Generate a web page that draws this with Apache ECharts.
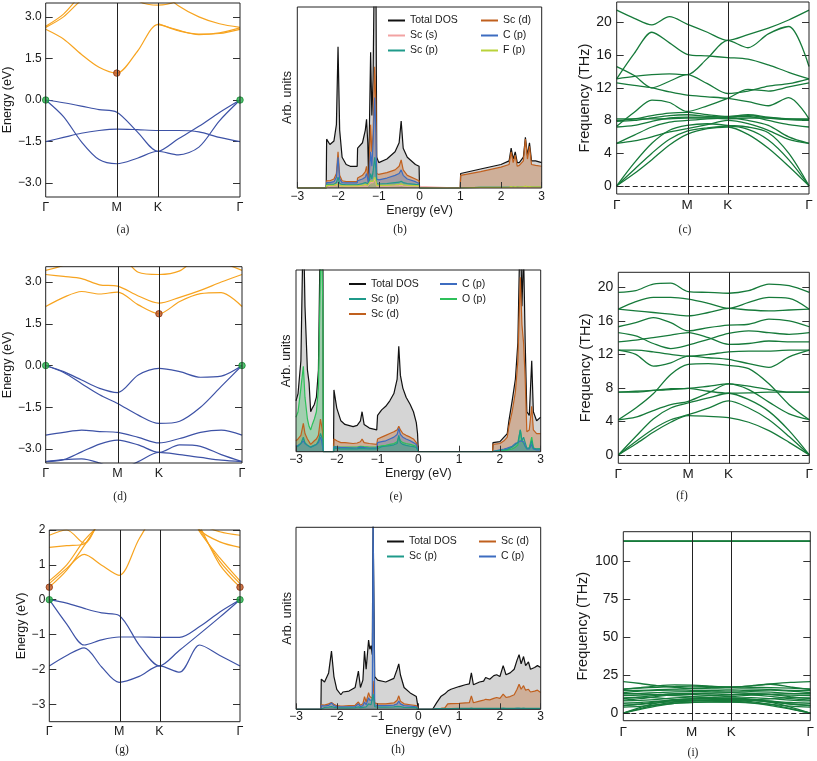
<!DOCTYPE html>
<html><head><meta charset="utf-8">
<script src="https://cdn.jsdelivr.net/npm/echarts@6/dist/echarts.min.js"></script>
<style>html,body{margin:0;padding:0;background:#fff}#c{width:817px;height:761px}</style>
</head><body><div id="c"></div>
<script>
// ---------------- DATA ----------------
const kTicks = [0, 0.366, 0.577, 1];
const kLabels = ['Γ', 'M', 'K', 'Γ'];
const kPath = [0, 0.0915, 0.183, 0.2745, 0.366, 0.4715, 0.577, 0.68275, 0.7885, 0.89425, 1];

// (a) band structure
const valenceA = [
  [0, -0.1, -0.22, -0.35, -0.44, -1.15, -1.85, -1.4, -0.95, -0.45, 0],
  [0, -0.6, -1.5, -2.15, -2.3, -2.1, -1.85, -1.98, -1.7, -0.75, 0],
  [-1.5, -1.35, -1.2, -1.1, -1.05, -1.07, -1.1, -1.1, -1.15, -1.35, -1.5]
];
const conductionA = [
  [2.55, 2.2, 1.65, 1.18, 0.97, 1.75, 2.72, 2.5, 2.38, 2.4, 2.55],
  [2.62, 3.0, 3.6, 4.0, 4.2, 4.3, 4.0, 3.4, 3.0, 2.75, 2.62],
  [2.66, 3.1, 3.8, 4.3, 4.4, 3.6, 3.42, 3.6, 4.2, 4.5, 4.6],
  [null, null, null, null, null, null, 2.76, 2.52, 2.36, 2.42, 2.6]
];
const vbmA = [[0, 0], [1, 0]];
const cbmA = [[0.366, 0.97]];

// (d) band structure
const valenceD = [
  [0, -0.22, -0.52, -0.82, -0.97, -0.34, -0.1, -0.22, -0.42, -0.38, 0],
  [0, -0.25, -0.65, -1.05, -1.36, -1.78, -2.08, -2.0, -1.5, -0.75, 0],
  [-2.5, -2.4, -2.32, -2.37, -2.4, -2.58, -2.78, -2.62, -2.4, -2.32, -2.5],
  [-3.45, -3.38, -3.1, -2.82, -2.68, -2.85, -3.12, -2.85, -2.9, -3.2, -3.45],
  [-3.45, -3.38, -3.35, -3.5, -3.75, -3.45, -3.12, -3.2, -3.3, -3.4, -3.45]
];
const conductionD = [
  [2.12, 2.45, 2.66, 2.57, 2.64, 2.18, 1.86, 2.3, 2.58, 2.62, 2.12],
  [3.27, 3.2, 3.12, 2.9, 2.85, 2.5, 2.24, 2.45, 2.7, 3.0, 3.27],
  [3.42, 3.6, 3.9, 4.0, 4.0, 3.35, 3.27, 3.4, 3.9, 3.7, 3.42]
];
const vbmD = [[0, 0], [1, 0]];
const cbmD = [[0.577, 1.86]];

// (g) band structure
const valenceG = [
  [0, -0.1, -0.25, -0.38, -0.45, -1.3, -1.9, -1.45, -0.98, -0.5, 0],
  [0, -0.7, -1.3, -1.15, -1.07, -1.07, -1.08, -1.08, -0.77, -0.35, 0],
  [-1.9, -1.6, -1.38, -1.93, -2.37, -2.2, -1.9, -2.08, -1.3, -1.6, -1.9]
];
const conductionG = [
  [0.36, 0.85, 1.55, 2.3, 2.8, 3, 3, 3, 2.1, 1.0, 0.36],
  [0.46, 0.9, 1.3, 0.99, 0.7, 1.75, 2.6, 2.8, 2.0, 1.1, 0.46],
  [0.54, 1.0, 1.7, 2.2, 2.6, 3, 3, 3, 1.95, 1.2, 0.54],
  [1.5, 1.55, 1.6, 2.4, 3, 3, 3, 3, 2.0, 1.66, 1.5],
  [1.85, 2.0, 1.62, 2.4, 3, 3, 3, 3, 2.2, 1.95, 1.85]
];
const vbmG = [[0, 0], [1, 0]];
const cbmG = [[0, 0.36], [1, 0.36]];

// (c) phonons
const phononC = [
  [0, 1.5, 3.2, 5.0, 6.3, 7.0, 7.2, 6.3, 4.6, 2.4, 0],
  [0, 2.0, 4.0, 5.7, 6.7, 7.1, 7.3, 6.9, 5.6, 3.2, 0],
  [0, 2.8, 5.2, 6.8, 7.4, 7.6, 7.4, 7.2, 6.5, 4.0, 0],
  [5.2, 5.5, 6.0, 6.6, 7.0, 7.5, 8.0, 7.6, 6.8, 5.7, 5.2],
  [5.2, 6.2, 7.2, 7.8, 8.0, 8.2, 8.3, 8.0, 7.4, 6.0, 5.2],
  [7.2, 7.4, 7.9, 8.3, 8.4, 8.4, 8.4, 8.5, 8.0, 7.5, 7.2],
  [7.9, 8.0, 8.3, 8.6, 8.7, 8.5, 8.4, 8.6, 8.3, 8.1, 8.0],
  [8.0, 8.2, 8.6, 8.9, 9.0, 8.7, 8.5, 8.7, 8.4, 8.2, 8.1],
  [8.2, 8.2, 8.2, 8.2, 8.3, 8.3, 8.2, 8.3, 8.3, 8.2, 8.2],
  [7.3, 9.0, 10.5, 10.2, 9.1, 9.8, 10.7, 11.8, 11.6, 12.1, 12.6],
  [12.6, 12.3, 12.0, 11.5, 11.1, 10.9, 10.7, 10.3, 9.8, 10.8, 8.2],
  [14.6, 13.5, 12.0, 12.8, 13.6, 12.5, 11.3, 11.6, 12.2, 12.5, 13.1],
  [13.1, 13.4, 13.6, 13.7, 13.6, 15.6, 17.8, 16.9, 18.6, 19.5, 14.6],
  [13.1, 16.2, 18.8, 17.5, 16.1, 15.9, 15.7, 15.5, 14.8, 13.9, 13.1],
  [21.5, 20.5, 19.7, 20.7, 19.8, 18.8, 17.8, 18.5, 19.3, 20.3, 21.5]
];

// (f) phonons
const phononF = [
  [0, 1.3, 2.7, 3.9, 4.7, 4.6, 4.45, 3.9, 2.9, 1.5, 0],
  [0, 1.6, 3.1, 4.2, 4.8, 5.6, 6.44, 5.6, 4.2, 2.2, 0],
  [0, 2.2, 4.3, 5.6, 6.2, 6.8, 7.36, 6.6, 5.2, 2.9, 0],
  [4.2, 4.5, 5.3, 6.0, 6.4, 7.4, 8.47, 7.8, 6.3, 4.9, 4.2],
  [4.2, 5.6, 7.3, 9.6, 10.8, 10.9, 10.7, 10.3, 8.5, 6.0, 4.2],
  [7.5, 7.5, 7.7, 7.9, 7.95, 8.2, 8.47, 8.2, 7.8, 7.5, 7.5],
  [7.5, 7.6, 7.7, 7.8, 7.95, 7.6, 7.36, 7.4, 7.5, 7.5, 7.5],
  [12.5, 12.0, 10.6, 11.0, 11.8, 11.6, 11.4, 10.9, 10.45, 11.7, 12.5],
  [12.5, 12.5, 12.3, 12.0, 11.8, 12.0, 12.3, 12.4, 12.4, 12.5, 12.5],
  [13.5, 13.7, 14.0, 14.3, 14.6, 14.0, 13.2, 13.3, 13.6, 13.5, 13.5],
  [14.6, 14.2, 13.3, 12.7, 13.1, 13.8, 14.5, 14.8, 14.6, 14.4, 14.6],
  [15.3, 15.8, 16.4, 15.8, 14.8, 15.2, 15.5, 15.6, 16.2, 16.0, 15.3],
  [17.4, 17.2, 17.0, 16.8, 16.6, 17.0, 17.5, 17.3, 17.2, 17.3, 17.4],
  [17.4, 18.3, 18.8, 18.8, 18.6, 18.1, 17.5, 18.2, 18.8, 18.7, 17.4],
  [19.4, 19.6, 20.4, 20.5, 19.5, 19.4, 19.3, 19.6, 20.4, 20.2, 19.4]
];

// (i) phonons
const phononI = [
  [0, 2.5, 4.8, 6.5, 7.2, 7.4, 7.5, 6.8, 5.0, 2.6, 0],
  [0, 3.0, 5.5, 7.2, 8.0, 8.2, 8.3, 7.6, 5.8, 3.0, 0],
  [0, 3.8, 6.8, 8.6, 9.3, 9.2, 9.0, 8.6, 7.0, 3.9, 0],
  [4.0, 4.5, 5.5, 6.4, 7.0, 7.2, 7.3, 6.8, 5.8, 4.6, 4.0],
  [5.0, 5.8, 6.8, 7.6, 8.0, 8.8, 9.6, 8.8, 7.2, 5.9, 5.0],
  [5.0, 6.0, 7.5, 8.8, 9.5, 9.7, 9.8, 9.2, 7.8, 6.0, 5.0],
  [6.5, 7.0, 7.8, 8.2, 8.5, 8.6, 8.7, 8.4, 7.8, 7.0, 6.5],
  [8.0, 8.4, 9.0, 10.0, 10.5, 10.2, 10.0, 10.2, 9.5, 8.6, 8.0],
  [8.5, 9.5, 11.0, 12.0, 12.3, 11.5, 11.0, 11.8, 11.0, 9.5, 8.5],
  [9.5, 10.5, 11.8, 12.8, 13.0, 12.6, 12.2, 12.8, 12.2, 10.8, 9.5],
  [10.0, 10.5, 10.0, 9.0, 8.5, 8.0, 7.5, 8.5, 9.5, 10.2, 10.0],
  [11.5, 11.8, 12.2, 12.6, 12.8, 13.2, 13.5, 13.0, 12.4, 11.8, 11.5],
  [12.5, 13.0, 13.5, 14.0, 14.2, 14.0, 13.8, 14.2, 13.8, 13.0, 12.5],
  [13.0, 12.5, 12.0, 11.5, 11.0, 11.5, 12.0, 12.2, 12.5, 12.8, 13.0],
  [13.5, 14.5, 15.0, 15.2, 15.0, 14.8, 14.6, 15.0, 15.2, 14.5, 13.5],
  [14.8, 15.0, 15.4, 15.8, 16.2, 16.0, 15.8, 16.0, 15.6, 15.0, 14.8],
  [15.5, 16.8, 18.0, 18.6, 18.5, 17.8, 17.0, 18.0, 19.0, 17.2, 15.5],
  [16.0, 16.5, 17.0, 17.5, 17.8, 17.5, 17.2, 17.0, 16.8, 16.4, 16.0],
  [20.8, 19.5, 18.0, 17.0, 16.5, 16.8, 17.2, 18.0, 19.2, 20.2, 20.8],
  [113.2, 113.2, 113.2, 113.2, 113.2, 113.2, 113.2, 113.2, 113.2, 113.2, 113.2],
  [113.5, 113.5, 113.5, 113.5, 113.5, 113.5, 113.5, 113.5, 113.5, 113.5, 113.5]
];

// (b) DOS
const energyB = [-3.0,-2.29,-2.28,-2.2,-2.1,-2.04,-2.0,-1.96,-1.9,-1.8,-1.7,-1.53,-1.52,-1.4,-1.33,-1.3,-1.27,-1.25,-1.2,-1.17,-1.14,-1.1,-1.07,-1.05,-1.0,-0.8,-0.6,-0.5,-0.45,-0.4,-0.3,-0.1,-0.01,0.0,1.0,1.01,1.5,2.0,2.2,2.25,2.3,2.35,2.4,2.45,2.55,2.6,2.65,2.7,2.75,2.85,3.0];
const totalB = [0,0,27,24,26,35,78,32,17,13, 12,12,22,25,32,38,25,5,75,40, 60,140,120,17,14,16,20,25,37,22, 17,13,12,0,0,8,10.5,13,15,22, 16,20,14,14,17,28,18,25,15,15,14];
const scdB = [0,0,4,4,5,8,20,7,4,3.5, 3.5,3.5,5.5,7,9,12,7,2,35,20, 30,67,45,8,7.5,8.5,10,12,15.5,10, 7,5,4,0,0,7,9,11.5,13,20, 14,18,12,12.5,15,27,16,23,13,12.5,12];
const cpB = [0,0,3,3,3.5,6,17,5,3,2.8, 2.8,2.8,4,5,6,8,5,1.5,20,12, 25,50,30,5,4.5,5.5,7,8,10,7, 5,3.5,2.5,0,0,0.4,0.4,0.4,0.5,0.6, 0.5,0.6,0.5,0.5,0.5,0.7,0.5,0.6,0.5,0.5,0.5];
const scpB = [0,0,2,2,2,3,6,2.5,2,1.8, 1.8,1.8,2.2,2.5,3,4,2.5,1,8,5, 9,17,10,2.5,2.2,2.5,3,3.2,3.7,3, 2.5,2,1.8,0,0,0.3,0.3,0.3,0.3,0.4, 0.3,0.4,0.3,0.3,0.3,0.4,0.3,0.4,0.3,0.3,0.3];
const scsB = [0,0,1,1,1,1.2,2.5,1,1,0.8, 0.8,0.8,1,1,1.2,1.5,1,0.5,3,2, 3,5,3,1,1,1,1.2,1.3,1.5,1.2, 1,1,0.8,0,0,0.2,0.2,0.2,0.2,0.3, 0.2,0.3,0.2,0.2,0.2,0.3,0.2,0.3,0.2,0.2,0.2];
const fpB = [0,0,1.5,1.5,1.5,2,3,1.5,1.2,1.2, 1.2,1.2,1.5,1.5,2,2.5,1.5,0.8,4,3, 3.5,6,4,1.5,1.5,1.5,1.8,2,2.3,1.8, 1.5,1.3,1.2,0,0,0.3,0.3,0.4,0.5,0.8, 0.5,0.8,0.5,0.6,0.7,1.0,0.6,0.8,0.6,0.6,0.6];

// (e) DOS
const energyE = [-3.0,-2.95,-2.88,-2.82,-2.78,-2.72,-2.68,-2.64,-2.6,-2.55, -2.5,-2.45,-2.4,-2.37,-2.34,-2.33,-2.08,-2.07,-2.0,-1.9, -1.8,-1.6,-1.5,-1.42,-1.38,-1.33,-1.2,-1.02,-1.0,-0.9, -0.8,-0.7,-0.6,-0.52,-0.48,-0.44,-0.38,-0.3,-0.2,-0.12, -0.05,-0.02,0.0,1.82,1.83,2.0,2.1,2.18,2.22,2.3, 2.38,2.44,2.5,2.54,2.58,2.62,2.66,2.72,2.78,2.82,2.9,3.0];
const totalE = [28,32,50,130,80,45,38,22,24,26, 30,45,130,120,110,0,0,34,24,17, 15,13.8,14.5,17,22,15,13,12,20,23, 25,28,32,40,58,42,35,30,26,22, 16,10,0,0,5,5.5,8,10,17,28, 40,60,130,80,110,60,22,20,50,22,17,19];
const scdE = [6,7,9,15.6,10,7,6,4,5,6, 7,9,18,14,10,0,0,7,6,5, 5,4.5,4.8,5.5,7,5,4.5,4,7,8, 9,10,11,12,14,12,10,9,8,7, 5,4,0,0,4,4.5,6,8,14,22, 33,50,96,70,60,40,11,12,25,12,10,10];
const opE = [19,22,35,47,30,18,14,12,15,18, 22,35,100,110,80,0,0,3,2.7,2.6, 2.5,2.5,2.6,3,3.5,2.8,2.6,2.5,3,3.2, 3.5,4,4.5,5.5,8,6,5,4.5,4,3.5, 3,2.5,0,0,0.5,0.5,0.7,0.9,1.2,1.5, 2.5,3.7,12,6,5,3,1.5,2,8,2,1.5,1.5];
const cpE = [3,3.5,4.5,6,4.5,3.5,3,2.5,3,3.5, 4,5,8,6,5,0,0,2.7,2.5,2.3, 2.2,2,2.1,2.5,3,2.3,2,2,5,5.5, 6,7,8,9.5,12.8,9.5,8,7,6,5, 4,3,0,0,1,1,1.5,2,2.5,3, 4.6,5,6,5,5.5,3,1.5,1.5,4,1.5,1,1];
const scpE = [2.5,3,4.5,8,5,3.5,3,2.5,3,3.5, 4,6,10,8,6,0,0,2,1.8,1.6, 1.6,1.5,1.6,1.8,2.5,1.7,1.5,1.5,2.5,2.8, 3,3.3,3.8,4.5,9,5,4,3.5,3,2.8, 2.3,2,0,0,0.8,0.8,1,1.3,2,2.5, 4,5,12,6,8,5,2,2,6,2,1.5,1.5];

// (h) DOS
const energyH = [-3.0,-2.39,-2.38,-2.3,-2.2,-2.13,-2.07,-2.0,-1.9,-1.85, -1.7,-1.55,-1.47,-1.42,-1.36,-1.32,-1.28,-1.22,-1.19,-1.16, -1.13,-1.11,-1.09,-1.07,-1.0,-0.8,-0.6,-0.52,-0.48,-0.44, -0.35,-0.2,-0.05,-0.01,0.0,0.35,0.36,0.45,0.55,0.65, 0.72,0.8,1.0,1.15,1.25,1.3,1.35,1.5,1.6,1.65, 1.75,1.85,1.92,2.0,2.08,2.15,2.25,2.35,2.42,2.47, 2.52,2.58,2.63,2.7,2.75,2.85,2.92,3.0];
const totalH = [0,0,16.6,15,20,32,18,11,8,9.5, 10,12,21,12,16,32,22,38,33,35, 30,105,105,18,16,15,17,22,25,19, 12,9,7,6.4,0,0,1,3.7,7,8.5, 10,11,12.5,13.5,14,20,13.5,15,15.5,17.5, 16.5,18.5,19,18,24,19,20,22,27,30, 25,29,24,26,22,23,24,23];
const scdH = [0,0,2.5,2.3,3,3.7,2.8,2,1.8,1.8, 2,2.2,4,2.2,3,7,4,9.2,7,7.5, 6,15.6,15,3.5,3,3,3.5,5,7.4,4.5, 3,2.5,2,1.8,0,0,0,0.3,0.5,0.8, 3,3.1,3.3,3.5,3.6,7.4,3.6,4.5,5,5.5, 5.2,6,6.5,6,8.3,6.5,7,8,11,13.8, 11,13,10.5,11,9.5,10,10.5,9.2];
const cpH = [0,0,2,1.8,2.2,3.5,2,1.5,1.3,1.3, 1.4,1.5,3,1.5,2,4,2.5,6.4,5,5.5, 5,105,105,2.5,2,2,2.3,3,4.6,3, 2,1.7,1.4,1.2,0,0,0.2,0.3,0.3,0.3, 0.3,0.3,0.3,0.3,0.3,0.4,0.3,0.3,0.3,0.3, 0.3,0.3,0.3,0.3,0.4,0.3,0.3,0.3,0.4,0.4, 0.3,0.4,0.3,0.3,0.3,0.3,0.3,0.3];
const scpH = [0,0,1,1,1.2,1.5,1.1,0.9,0.8,0.8, 0.8,0.9,1.3,0.9,1.1,2,1.3,3,2.5,2.5, 2.2,8.3,8,1.5,1.2,1.2,1.3,1.6,2,1.5, 1.1,1,0.9,0.8,0,0,0.3,0.4,0.4,0.4, 0.4,0.4,0.5,0.5,0.5,0.6,0.5,0.5,0.5,0.5, 0.5,0.5,0.5,0.5,0.6,0.5,0.5,0.5,0.6,0.6, 0.5,0.6,0.5,0.5,0.5,0.5,0.5,0.5];

const energyTicks3 = [-3, -1.5, 0, 1.5, 3];
const energyTicksG = [-3, -2, -1, 0, 1, 2];
const freqTicks = [0, 4, 8, 12, 16, 20];
const freqTicksI = [0, 25, 50, 75, 100];

// ---------------- STYLE / BUILD ----------------
const FONT = '"Liberation Sans", Arial, sans-serif';
const SERIF = '"Liberation Serif", "Times New Roman", serif';
const TXT = '#1a1a1a';
const BLUE = '#3d52a6', ORANGE = '#f7a420', GREEN = '#167a3a';
const minus = s => String(s).replace('-', '\u2212');
const C = {
  tot: ['#111111', '#d5d5d5'],
  scd: ['#c0601e', 'rgba(192,96,30,0.33)'],
  cp:  ['#3d6cc0', 'rgba(61,108,192,0.30)'],
  scp: ['#1f9a8a', 'rgba(31,154,138,0.25)'],
  scs: ['#f2a2a2', 'rgba(242,162,162,0.30)'],
  fp:  ['#b9d23a', 'rgba(185,210,58,0.30)'],
  op:  ['#2ec05a', 'rgba(46,192,90,0.30)']
};

const grid = [], xAxis = [], yAxis = [], series = [], legend = [], graphic = [];

function frame(b) {
  grid.push({left: b[0], top: b[1], width: b[2], height: b[3], show: true, borderColor: '#222', borderWidth: 1, backgroundColor: 'transparent', z: 5});
  return grid.length - 1;
}
function kLabel(v) {
  let best = 0;
  kTicks.forEach((t, i) => { if (Math.abs(t - v) < Math.abs(kTicks[best] - v)) best = i; });
  return kLabels[best];
}

function bandPanel(p) {
  const g = frame(p.box);
  const xi = xAxis.length;
  xAxis.push({gridIndex: g, type: 'value', min: 0, max: 1, axisLine: {show: false}, axisTick: {show: false}, splitLine: {show: false},
    axisLabel: {customValues: kTicks, formatter: kLabel, fontSize: p.xfs, fontFamily: FONT, color: TXT, margin: p.xm}});
  const yi = yAxis.length;
  const tick = {inside: true, length: 7, customValues: p.ticks, lineStyle: {color: '#333', width: 1}};
  yAxis.push({gridIndex: g, type: 'value', min: p.ymin, max: p.ymax, axisLine: {show: false}, splitLine: {show: false}, axisTick: tick,
    axisLabel: {customValues: p.ticks, formatter: p.fmt, fontSize: p.fs, fontFamily: FONT, color: TXT, margin: p.ym},
    name: p.name, nameLocation: 'middle', nameGap: p.ng, nameTextStyle: {fontSize: p.nfs, fontFamily: FONT, color: TXT}});
  yAxis.push({gridIndex: g, type: 'value', position: 'right', min: p.ymin, max: p.ymax, axisLine: {show: false}, splitLine: {show: false}, axisTick: tick, axisLabel: {show: false}});
  const ml = [{xAxis: kTicks[1]}, {xAxis: kTicks[2]}];
  if (p.zero) ml.push({yAxis: 0, lineStyle: {type: [5, 3], color: '#222', width: 1.2}});
  let first = true;
  p.groups.forEach(gr => gr.bands.forEach(b => {
    const s = {type: 'line', xAxisIndex: xi, yAxisIndex: yi, data: kPath.map((k, j) => [k, b[j]]), smooth: 0.3, symbol: 'none',
      lineStyle: {color: gr.color, width: p.lw}, itemStyle: {color: gr.color}, silent: true, z: 2};
    if (first) {
      s.markLine = {silent: true, symbol: ['none', 'none'], label: {show: false}, lineStyle: {color: '#222', width: 1, type: 'solid'}, data: ml};
      first = false;
    }
    series.push(s);
  }));
  (p.markers || []).forEach(m => series.push({type: 'scatter', xAxisIndex: xi, yAxisIndex: yi, data: m.data, symbolSize: 6.5,
    itemStyle: {color: m.color, borderColor: m.edge, borderWidth: 1}, z: 4, silent: true}));
}

function dosPanel(p) {
  const g = frame(p.box);
  const xi = xAxis.length;
  xAxis.push({gridIndex: g, type: 'value', min: -3, max: 3, interval: 1, z: 6, axisLine: {show: false}, splitLine: {show: false},
    axisTick: {inside: true, length: 6, lineStyle: {color: '#333'}},
    axisLabel: {formatter: v => minus(v), fontSize: 12, fontFamily: FONT, color: TXT, margin: p.xm},
    name: 'Energy (eV)', nameLocation: 'middle', nameGap: 15, nameTextStyle: {fontSize: 12.5, fontFamily: FONT, color: TXT}});
  const yi = yAxis.length;
  yAxis.push({gridIndex: g, type: 'value', min: 0, max: 100, axisLine: {show: false}, axisTick: {show: false}, axisLabel: {show: false}, splitLine: {show: false},
    name: 'Arb. units', nameLocation: 'middle', nameGap: p.ng, nameTextStyle: {fontSize: 12.5, fontFamily: FONT, color: TXT}});
  p.comps.forEach(c => series.push({type: 'line', name: c.name, xAxisIndex: xi, yAxisIndex: yi,
    data: p.energy.map((e, j) => [e, c.vals[j]]), symbol: 'none', lineStyle: {color: c.col[0], width: 1.2},
    itemStyle: {color: c.col[0]}, areaStyle: {color: c.col[1], opacity: 1}, silent: true, z: 2}));
  p.legends.forEach(l => legend.push({orient: 'vertical', left: l[0], top: l[1], data: l[2], icon: 'rect', itemWidth: 17, itemHeight: 2,
    itemGap: 2, padding: 0, selectedMode: false, textStyle: {fontSize: 10.5, lineHeight: 13, fontFamily: FONT, color: TXT}}));
}

const fmt1 = v => minus(v.toFixed(1));
const fmt0 = v => minus(v);

bandPanel({box: [45.7, 3, 194.3, 194], ymin: -3.5, ymax: 3.5, ticks: energyTicks3, fmt: fmt1, name: 'Energy (eV)', ng: 31, fs: 12, nfs: 12.5, xfs: 12.5, xm: 4, ym: 4, lw: 1.2,
  groups: [{bands: valenceA, color: BLUE}, {bands: conductionA, color: ORANGE}],
  markers: [{data: vbmA, color: '#25b04a', edge: '#158a35'}, {data: cbmA, color: '#c2561f', edge: '#8a3510'}]});
bandPanel({box: [45.7, 266.7, 196.3, 196.3], ymin: -3.5, ymax: 3.55, ticks: energyTicks3, fmt: fmt1, name: 'Energy (eV)', ng: 31, fs: 12, nfs: 12.5, xfs: 12.5, xm: 4, ym: 4, lw: 1.2,
  groups: [{bands: valenceD, color: BLUE}, {bands: conductionD, color: ORANGE}],
  markers: [{data: vbmD, color: '#25b04a', edge: '#158a35'}, {data: cbmD, color: '#c2561f', edge: '#8a3510'}]});
bandPanel({box: [49.3, 530, 190.7, 191.7], ymin: -3.5, ymax: 2, ticks: energyTicksG, fmt: fmt0, name: 'Energy (eV)', ng: 21, fs: 12, nfs: 12.5, xfs: 12.5, xm: 3, ym: 4, lw: 1.2,
  groups: [{bands: valenceG, color: BLUE}, {bands: conductionG, color: ORANGE}],
  markers: [{data: vbmG, color: '#25b04a', edge: '#158a35'}, {data: cbmG, color: '#c2561f', edge: '#8a3510'}]});

bandPanel({box: [616.7, 2, 192.3, 192], ymin: -1, ymax: 22.5, ticks: freqTicks, fmt: fmt0, name: 'Frequency (THz)', ng: 23, fs: 14, nfs: 14.5, xfs: 13.5, xm: 4, ym: 5, lw: 1.3, zero: true,
  groups: [{bands: phononC, color: GREEN}]});
bandPanel({box: [618.3, 272.3, 191, 191], ymin: -1, ymax: 21.8, ticks: freqTicks, fmt: fmt0, name: 'Frequency (THz)', ng: 23, fs: 14, nfs: 14.5, xfs: 13.5, xm: 3.5, ym: 5, lw: 1.3, zero: true,
  groups: [{bands: phononF, color: GREEN}]});
bandPanel({box: [623.3, 531.7, 189, 189], ymin: -5, ymax: 119.5, ticks: freqTicksI, fmt: fmt0, name: 'Frequency (THz)', ng: 33, fs: 14, nfs: 14.5, xfs: 13.5, xm: 5, ym: 5, lw: 1.3, zero: true,
  groups: [{bands: phononI, color: GREEN}]});

dosPanel({box: [297.3, 7, 244.4, 181], energy: energyB, xm: 3, ng: 3,
  comps: [{name: 'Total DOS', vals: totalB, col: C.tot}, {name: 'Sc (d)', vals: scdB, col: C.scd}, {name: 'C (p)', vals: cpB, col: C.cp},
          {name: 'Sc (p)', vals: scpB, col: C.scp}, {name: 'Sc (s)', vals: scsB, col: C.scs}, {name: 'F (p)', vals: fpB, col: C.fp}],
  legends: [[388, 14, ['Total DOS', 'Sc (s)', 'Sc (p)']], [481, 14, ['Sc (d)', 'C (p)', 'F (p)']]]});
dosPanel({box: [296, 270, 244.7, 181.7], energy: energyE, xm: 1.5, ng: 2.5,
  comps: [{name: 'Total DOS', vals: totalE, col: C.tot}, {name: 'Sc (d)', vals: scdE, col: C.scd}, {name: 'O (p)', vals: opE, col: C.op},
          {name: 'C (p)', vals: cpE, col: C.cp}, {name: 'Sc (p)', vals: scpE, col: C.scp}],
  legends: [[349, 277.5, ['Total DOS', 'Sc (p)', 'Sc (d)']], [440, 277.5, ['C (p)', 'O (p)']]]});
dosPanel({box: [296, 527.3, 244.7, 182], energy: energyH, xm: 1.5, ng: 2,
  comps: [{name: 'Total DOS', vals: totalH, col: C.tot}, {name: 'Sc (d)', vals: scdH, col: C.scd}, {name: 'C (p)', vals: cpH, col: C.cp},
          {name: 'Sc (p)', vals: scpH, col: C.scp}],
  legends: [[387, 535, ['Total DOS', 'Sc (p)']], [479, 535, ['Sc (d)', 'C (p)']]]});

const captions = [['(a)', 123, 230], ['(b)', 400, 230], ['(c)', 685, 230], ['(d)', 120, 497], ['(e)', 396, 497], ['(f)', 682, 496],
                  ['(g)', 122, 750], ['(h)', 398, 750], ['(i)', 693, 753]];
captions.forEach(c => graphic.push({type: 'text', x: c[1], y: c[2], silent: true,
  style: {text: c[0], fontSize: 11.5, fontFamily: SERIF, fill: '#222', align: 'center', verticalAlign: 'middle'}}));

const chart = echarts.init(document.getElementById('c'), null, {renderer: 'canvas'});
chart.setOption({animation: false, backgroundColor: '#fff', grid, xAxis, yAxis, series, legend, graphic});
</script></body></html>
